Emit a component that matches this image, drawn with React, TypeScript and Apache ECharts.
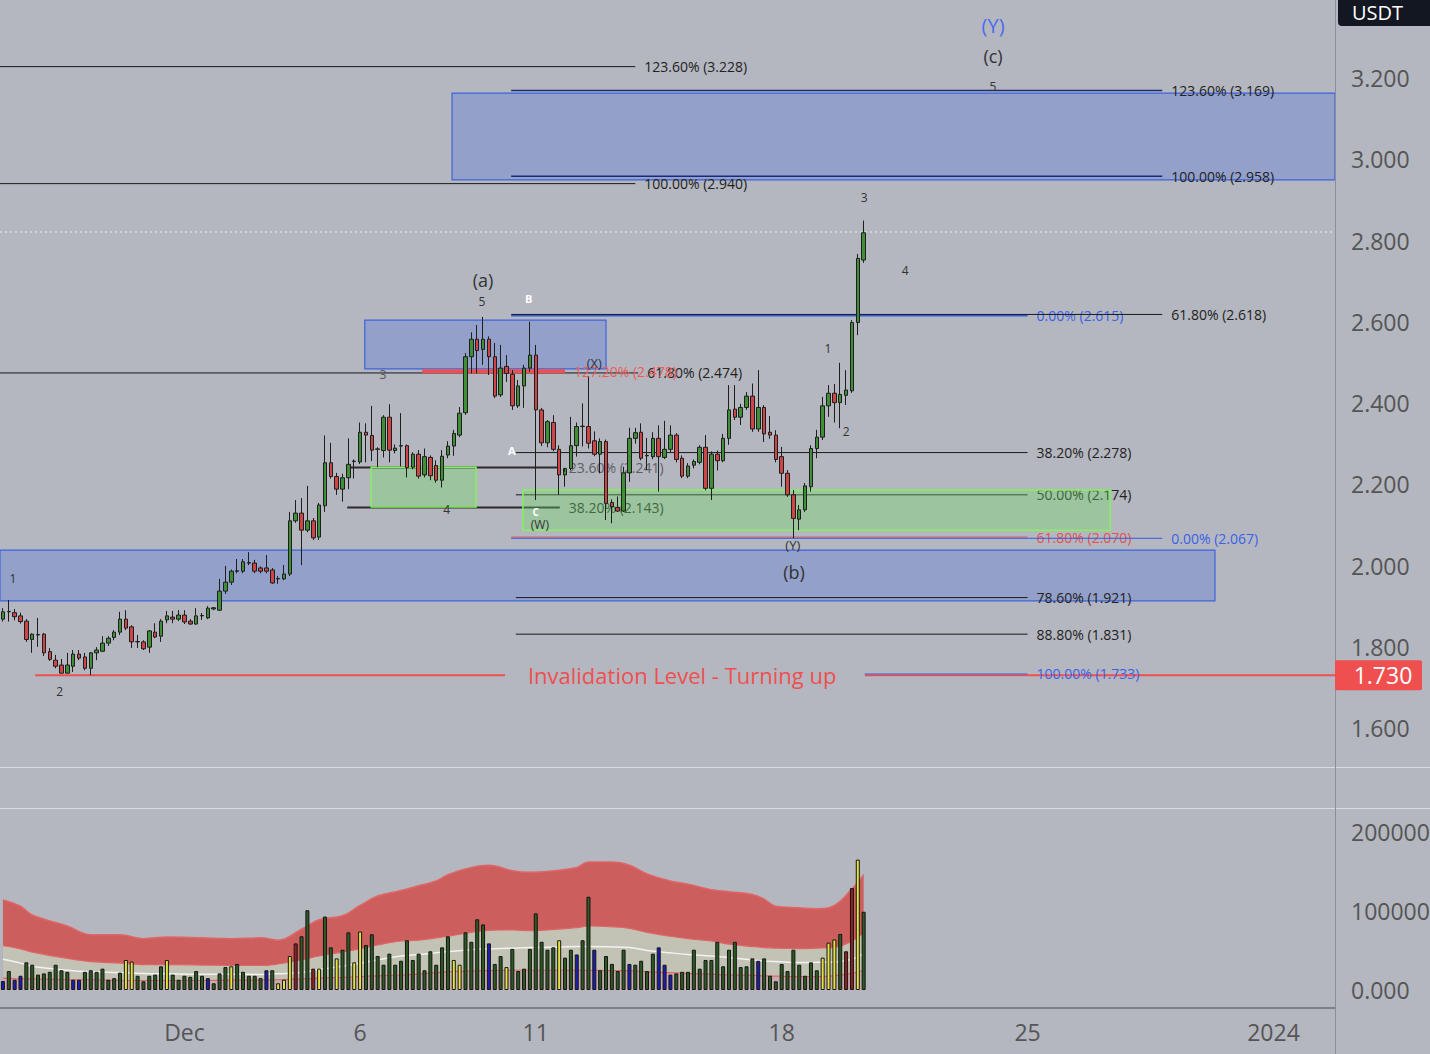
import React, { useEffect, useRef } from "react";
import * as echarts from "echarts";

const FONT = '"Open Sans", "Noto Sans", sans-serif';
const BG = "#b4b7bf";

// ---------- time axis ----------
const SLOTS = 228; // 4h slots visible across the plot
const START_MS = Date.UTC(2023, 10, 25, 20, 0);
const pad2 = (n: number) => String(n).padStart(2, "0");
const CATEGORIES: string[] = Array.from({ length: SLOTS }, (_, i) => {
  const d = new Date(START_MS + i * 4 * 3600 * 1000);
  return `${d.getUTCFullYear()}-${pad2(d.getUTCMonth() + 1)}-${pad2(d.getUTCDate())} ${pad2(d.getUTCHours())}:00`;
});
const TIME_TICK_DATES = ["2023-12-01 00:00", "2023-12-06 00:00", "2023-12-11 00:00", "2023-12-18 00:00", "2023-12-25 00:00", "2024-01-01 00:00"];
const TIME_TICK_LABELS = ["Dec", "6", "11", "18", "25", "2024"];

// ---------- price candles [open, high, low, close] ----------
const CANDLES: number[][] = [
  [1.868, 1.895, 1.862, 1.886], [1.886, 1.915, 1.862, 1.887], [1.884, 1.893, 1.865, 1.874], [1.876, 1.884, 1.857, 1.862],
  [1.863, 1.868, 1.812, 1.818], [1.818, 1.833, 1.785, 1.831], [1.829, 1.871, 1.800, 1.830], [1.831, 1.834, 1.777, 1.785],
  [1.788, 1.797, 1.765, 1.769], [1.767, 1.780, 1.747, 1.752], [1.755, 1.770, 1.735, 1.735], [1.735, 1.785, 1.735, 1.755],
  [1.752, 1.792, 1.738, 1.782], [1.782, 1.792, 1.767, 1.772], [1.775, 1.785, 1.742, 1.747], [1.747, 1.787, 1.730, 1.785],
  [1.785, 1.799, 1.767, 1.792], [1.789, 1.826, 1.787, 1.809], [1.809, 1.826, 1.802, 1.821], [1.823, 1.841, 1.816, 1.836],
  [1.836, 1.886, 1.829, 1.868], [1.868, 1.890, 1.841, 1.846], [1.849, 1.853, 1.797, 1.812], [1.812, 1.829, 1.797, 1.813],
  [1.812, 1.816, 1.792, 1.795], [1.799, 1.841, 1.785, 1.839], [1.836, 1.858, 1.821, 1.824], [1.826, 1.868, 1.812, 1.863],
  [1.866, 1.888, 1.858, 1.876], [1.873, 1.888, 1.858, 1.868], [1.868, 1.890, 1.863, 1.878], [1.878, 1.890, 1.856, 1.861],
  [1.863, 1.868, 1.854, 1.856], [1.856, 1.895, 1.854, 1.876], [1.876, 1.883, 1.866, 1.877], [1.871, 1.900, 1.868, 1.895],
  [1.893, 1.898, 1.890, 1.896], [1.890, 1.967, 1.888, 1.937], [1.937, 1.999, 1.930, 1.959], [1.959, 1.990, 1.952, 1.986],
  [1.986, 2.016, 1.981, 1.987], [1.986, 2.016, 1.981, 2.009], [2.006, 2.033, 2.001, 2.007], [2.006, 2.014, 1.981, 1.986],
  [1.994, 1.998, 1.981, 1.986], [1.994, 2.026, 1.981, 1.986], [1.989, 1.994, 1.955, 1.957], [1.967, 1.974, 1.955, 1.968],
  [1.967, 2.001, 1.964, 1.979], [1.979, 2.132, 1.974, 2.110], [2.110, 2.161, 2.105, 2.129], [2.129, 2.166, 2.001, 2.087],
  [2.087, 2.196, 2.082, 2.110], [2.110, 2.117, 2.063, 2.068], [2.070, 2.154, 2.063, 2.149], [2.147, 2.320, 2.132, 2.253],
  [2.253, 2.302, 2.214, 2.219], [2.219, 2.228, 2.174, 2.188], [2.188, 2.226, 2.157, 2.216], [2.216, 2.313, 2.188, 2.249],
  [2.256, 2.261, 2.214, 2.257], [2.255, 2.352, 2.250, 2.328], [2.328, 2.350, 2.254, 2.321], [2.320, 2.393, 2.257, 2.284],
  [2.286, 2.291, 2.242, 2.287], [2.283, 2.370, 2.266, 2.365], [2.365, 2.397, 2.254, 2.284], [2.283, 2.298, 2.276, 2.289],
  [2.294, 2.375, 2.244, 2.295], [2.295, 2.298, 2.217, 2.241], [2.242, 2.279, 2.237, 2.274], [2.274, 2.284, 2.214, 2.220],
  [2.223, 2.288, 2.217, 2.268], [2.266, 2.271, 2.210, 2.221], [2.246, 2.259, 2.204, 2.210], [2.210, 2.284, 2.192, 2.269],
  [2.272, 2.306, 2.264, 2.294], [2.294, 2.334, 2.270, 2.325], [2.321, 2.390, 2.316, 2.375], [2.376, 2.523, 2.371, 2.514],
  [2.514, 2.574, 2.473, 2.557], [2.557, 2.592, 2.473, 2.529], [2.532, 2.612, 2.494, 2.557], [2.557, 2.564, 2.469, 2.514],
  [2.514, 2.548, 2.412, 2.417], [2.420, 2.543, 2.415, 2.486], [2.490, 2.518, 2.452, 2.473], [2.471, 2.481, 2.383, 2.393],
  [2.393, 2.457, 2.388, 2.442], [2.442, 2.494, 2.388, 2.486], [2.486, 2.600, 2.477, 2.518], [2.518, 2.543, 2.161, 2.383],
  [2.383, 2.388, 2.294, 2.302], [2.302, 2.358, 2.291, 2.354], [2.352, 2.370, 2.281, 2.286], [2.286, 2.296, 2.174, 2.223],
  [2.223, 2.231, 2.194, 2.239], [2.239, 2.366, 2.234, 2.295], [2.295, 2.352, 2.268, 2.342], [2.342, 2.399, 2.293, 2.343],
  [2.342, 2.465, 2.288, 2.301], [2.307, 2.330, 2.269, 2.274], [2.274, 2.313, 2.227, 2.305], [2.305, 2.310, 2.112, 2.153],
  [2.155, 2.163, 2.104, 2.145], [2.143, 2.170, 2.132, 2.134], [2.134, 2.243, 2.132, 2.228], [2.228, 2.339, 2.206, 2.313],
  [2.313, 2.339, 2.300, 2.327], [2.328, 2.350, 2.259, 2.264], [2.270, 2.314, 2.235, 2.271], [2.268, 2.328, 2.262, 2.313],
  [2.313, 2.345, 2.182, 2.268], [2.266, 2.356, 2.262, 2.286], [2.286, 2.345, 2.279, 2.321], [2.321, 2.326, 2.254, 2.261],
  [2.264, 2.271, 2.215, 2.220], [2.220, 2.252, 2.215, 2.245], [2.247, 2.261, 2.239, 2.256], [2.254, 2.296, 2.249, 2.291],
  [2.291, 2.321, 2.185, 2.190], [2.190, 2.281, 2.161, 2.274], [2.274, 2.283, 2.234, 2.258], [2.258, 2.324, 2.254, 2.313],
  [2.313, 2.444, 2.297, 2.383], [2.385, 2.444, 2.358, 2.365], [2.365, 2.398, 2.346, 2.389], [2.389, 2.427, 2.383, 2.417],
  [2.417, 2.448, 2.329, 2.336], [2.336, 2.481, 2.329, 2.389], [2.389, 2.395, 2.304, 2.324], [2.328, 2.368, 2.312, 2.321],
  [2.321, 2.333, 2.254, 2.261], [2.268, 2.292, 2.194, 2.227], [2.227, 2.235, 2.169, 2.174], [2.174, 2.186, 2.067, 2.116],
  [2.114, 2.149, 2.087, 2.137], [2.137, 2.203, 2.132, 2.196], [2.194, 2.296, 2.182, 2.288], [2.288, 2.334, 2.264, 2.316],
  [2.316, 2.415, 2.309, 2.393], [2.393, 2.444, 2.366, 2.424], [2.424, 2.447, 2.352, 2.401], [2.401, 2.499, 2.338, 2.421],
  [2.419, 2.481, 2.395, 2.432], [2.430, 2.604, 2.425, 2.598], [2.598, 2.767, 2.567, 2.756], [2.752, 2.849, 2.745, 2.819],
];

// ---------- volume ----------
const VOLUME: number[] = [
  11400, 24000, 13000, 18000, 35000, 32000, 19500, 21000, 23000, 32000, 25000, 23000, 13000, 13000, 23000, 25000,
  23000, 27000, 13000, 15000, 22000, 38000, 36000, 18000, 11000, 18000, 19500, 30000, 38000, 19500, 13000, 18000,
  16700, 24000, 18000, 15000, 8500, 21000, 29000, 30000, 33000, 23000, 18000, 18000, 15000, 25000, 25000, 8500,
  13000, 43000, 59000, 68000, 101000, 27000, 27000, 93000, 54000, 40000, 51000, 73000, 35000, 74000, 57000, 70500,
  43000, 32000, 46000, 32000, 37000, 63000, 38000, 46000, 25000, 49000, 32000, 54000, 68000, 38000, 32000, 73000,
  61000, 89500, 83000, 59000, 33000, 43000, 29000, 52000, 24000, 27000, 52000, 97000, 61000, 51000, 54000, 63000,
  41000, 51000, 45000, 63000, 118000, 51000, 25000, 43000, 33000, 24000, 51000, 33000, 32000, 37000, 24000, 46000,
  54000, 32000, 19500, 21000, 23000, 23000, 51000, 27000, 38000, 38000, 61000, 30000, 51000, 61000, 29000, 30000,
  40000, 37000, 40000, 18000, 11000, 33000, 24000, 51000, 32000, 18000, 35000, 25000, 41000, 60000, 64000, 71000,
  49000, 129000, 165000, 99000,
];
// g = normal, y = high, r = very high, b = low
const VOLUME_KIND: string =
  "bgbbggggggggbbgggggggyygggggygggggg" + "bgggygggggbgyyyrggryggyggyygggggggggggggggyyggggbggyggggggggyggbggbgggggbggggbbbggggggggggggggbggggggggggyyygrry";

// volume bands sampled at slot indexes
const BAND_X = [0, 3, 5, 11, 15, 20, 24, 28, 34, 39, 44, 47, 51, 54, 58, 61, 64, 68, 71, 74, 76, 80, 83, 87, 90, 93, 98, 100, 104, 107, 110, 114, 117, 121, 124, 128, 130, 132, 136, 139, 142, 145, 147];
const BAND_UPPER = [114, 106, 95, 81, 70, 70, 65, 67, 66, 65, 66, 63, 77, 89, 94, 107, 119, 126, 132, 138, 146, 155, 158, 151, 149, 150, 155, 162, 162, 158, 147, 138, 134, 127, 124.5, 121, 115, 106, 104, 103, 107, 128, 146];
const BAND_MID = [56, 52, 48, 40, 36, 34, 32, 32, 31.6, 31, 31, 33, 38, 43, 48, 52, 57, 62, 63, 66, 68, 73, 75.5, 76, 75, 76, 79, 81, 80, 78, 73, 68, 65, 62, 58, 55, 53.7, 53, 52.4, 53, 54, 62, 72.6];
const BAND_MEAN = [39, 34, 30, 25, 23, 22, 21, 20.5, 20, 20, 19.7, 20.5, 22, 26, 30, 34, 38, 43, 45, 47, 48.6, 51, 52, 53, 53.7, 54, 55, 55, 54.5, 53.7, 50, 47, 45, 43, 41, 38, 36.7, 36, 34.7, 35, 35.5, 39, 46.5];
const BAND_LOWER = [15, 14, 14, 13, 13, 12, 12, 12, 12, 12.5, 12.6, 13, 14, 15, 16, 17, 18, 19, 20, 22, 23, 24, 24.5, 25, 25, 25, 25, 25, 24.5, 24.5, 23, 22, 21, 20, 19, 18.5, 18, 17.5, 17, 17, 18, 21, 25];

// ---------- drawings ----------
const LAST_PRICE = 2.821;
const INVALIDATION = 1.73;
type Rect = { x1: number; x2: number; top: number; bottom: number; kind: "blue" | "green" };
const RECTS: Rect[] = [
  { x1: 61.8, x2: 103, top: 2.604, bottom: 2.484, kind: "blue" },
  { x1: 76.7, x2: 227.5, top: 3.163, bottom: 2.949, kind: "blue" },
  { x1: -0.5, x2: 207, top: 2.038, bottom: 1.913, kind: "blue" },
  { x1: 62.9, x2: 80.8, top: 2.242, bottom: 2.144, kind: "green" },
  { x1: 88.8, x2: 189.1, top: 2.186, bottom: 2.087, kind: "green" },
];
type Level = { x1: number; x2: number; price: number; label: string; line: string; text: string; w: number };
const LEVELS: Level[] = [
  { x1: -0.5, x2: 108, price: 3.228, label: "123.60% (3.228)", line: "#1a1a1a", text: "#222", w: 1 },
  { x1: -0.5, x2: 108, price: 2.94, label: "100.00% (2.940)", line: "#1a1a1a", text: "#222", w: 1 },
  { x1: -0.5, x2: 108.5, price: 2.474, label: "61.80% (2.474)", line: "#1a1a1a", text: "#222", w: 1 },
  { x1: 86.8, x2: 198, price: 3.169, label: "123.60% (3.169)", line: "#1b2a78", text: "#222", w: 1.5 },
  { x1: 86.8, x2: 198, price: 2.958, label: "100.00% (2.958)", line: "#1b2a78", text: "#222", w: 1.5 },
  { x1: 86.8, x2: 175, price: 2.615, label: "0.00% (2.615)", line: "#2f5be6", text: "#3a62e8", w: 1.5 },
  { x1: 86.8, x2: 198, price: 2.618, label: "61.80% (2.618)", line: "#1a1a1a", text: "#222", w: 1 },
  { x1: 87.6, x2: 175, price: 2.278, label: "38.20% (2.278)", line: "#1a1a1a", text: "#222", w: 1 },
  { x1: 87.6, x2: 175, price: 2.174, label: "50.00% (2.174)", line: "#1a1a1a", text: "#222", w: 1 },
  { x1: 86.8, x2: 175, price: 2.07, label: "61.80% (2.070)", line: "#e55050", text: "#e55050", w: 1 },
  { x1: 86.8, x2: 198, price: 2.067, label: "0.00% (2.067)", line: "#2f5be6", text: "#3a62e8", w: 1 },
  { x1: 87.6, x2: 175, price: 1.921, label: "78.60% (1.921)", line: "#1a1a1a", text: "#222", w: 1 },
  { x1: 87.6, x2: 175, price: 1.831, label: "88.80% (1.831)", line: "#1a1a1a", text: "#222", w: 1 },
  { x1: 58.8, x2: 95.1, price: 2.241, label: "23.60% (2.241)", line: "#2a2a2a", text: "#5e6066", w: 2 },
  { x1: 58.8, x2: 95.1, price: 2.143, label: "38.20% (2.143)", line: "#2a2a2a", text: "#2a2a2a", w: 2 },
  { x1: 71.6, x2: 96, price: 2.478, label: "127.20% (2.478)", line: "#ef4f4f", text: "#ef5a5a", w: 4 },
];
type Wave = { x: number; price: number; text: string; color: string; size: number };
const WAVES: Wave[] = [
  { x: 169.1, price: 3.33, text: "(Y)", color: "#4a6cf0", size: 20 },
  { x: 169.1, price: 3.254, text: "(c)", color: "#333", size: 18 },
  { x: 169.1, price: 3.178, text: "5", color: "#333", size: 12 },
  { x: 147.1, price: 2.905, text: "3", color: "#333", size: 12 },
  { x: 154.1, price: 2.727, text: "4", color: "#333", size: 12 },
  { x: 140.9, price: 2.533, text: "1", color: "#333", size: 12 },
  { x: 144.0, price: 2.329, text: "2", color: "#333", size: 12 },
  { x: 82.0, price: 2.703, text: "(a)", color: "#333", size: 18 },
  { x: 81.8, price: 2.649, text: "5", color: "#333", size: 12 },
  { x: 89.8, price: 2.658, text: "B", color: "#ffffff", size: 11 },
  { x: 64.9, price: 2.469, text: "3", color: "#555", size: 12 },
  { x: 101.0, price: 2.498, text: "(X)", color: "#333", size: 13 },
  { x: 86.9, price: 2.282, text: "A", color: "#ffffff", size: 11 },
  { x: 75.8, price: 2.137, text: "4", color: "#333", size: 12 },
  { x: 91.0, price: 2.131, text: "C", color: "#ffffff", size: 10 },
  { x: 91.7, price: 2.1, text: "(W)", color: "#333", size: 12 },
  { x: 134.9, price: 2.05, text: "(Y)", color: "#333", size: 13 },
  { x: 135.1, price: 1.984, text: "(b)", color: "#333", size: 18 },
  { x: 1.7, price: 1.969, text: "1", color: "#333", size: 12 },
  { x: 9.7, price: 1.689, text: "2", color: "#333", size: 12 },
];
const INVALIDATION_TEXT = "Invalidation Level - Turning up";
const INV_SEGMENTS = [[5.5, 85.75], [147.2, 227.5]];
const INV_TEXT_X = 116;
const INV_BLUE = { x1: 147.2, x2: 175, price: 1.733, label: "100.00% (1.733)" };

const KIND_COLOR: Record<string, string> = { g: "#2c5a22", y: "#e6e43c", r: "#8e2222", b: "#1d1db5" };

export default function App() {
  const ref = useRef<HTMLDivElement>(null);

  useEffect(() => {
    const el = ref.current!;
    const chart = echarts.init(el, null, { renderer: "svg", width: 1430, height: 1054 });

    const axisText = { fontFamily: FONT, fontSize: 23, color: "#555" };

    const rectSeries = {
      type: "custom",
      xAxisIndex: 1,
      yAxisIndex: 0,
      z: 1,
      silent: true,
      data: RECTS.filter((r) => r.kind === "blue").map((r) => [r.x1, r.top, r.x2, r.bottom]),
      encode: { x: [0, 2], y: [1, 3] },
      renderItem: (params: any, api: any) => {
        const a = api.coord([api.value(0), api.value(1)]);
        const b = api.coord([api.value(2), api.value(3)]);
        return {
          type: "rect",
          shape: { x: a[0], y: a[1], width: b[0] - a[0], height: b[1] - a[1] },
          style: { fill: "rgba(70,110,230,0.30)", stroke: "#3d63dd", lineWidth: 1.2 },
        };
      },
    };

    const greenSeries = {
      type: "custom",
      xAxisIndex: 1,
      yAxisIndex: 0,
      z: 3,
      silent: true,
      data: RECTS.filter((r) => r.kind === "green").map((r) => [r.x1, r.top, r.x2, r.bottom]),
      encode: { x: [0, 2], y: [1, 3] },
      renderItem: (params: any, api: any) => {
        const a = api.coord([api.value(0), api.value(1)]);
        const b = api.coord([api.value(2), api.value(3)]);
        return {
          type: "rect",
          shape: { x: a[0], y: a[1], width: b[0] - a[0], height: b[1] - a[1] },
          style: { fill: "rgba(110,220,100,0.35)", stroke: "#86f060", lineWidth: 1.5 },
        };
      },
    };

    const levelSeries = {
      type: "custom",
      xAxisIndex: 1,
      yAxisIndex: 0,
      z: 2,
      silent: true,
      data: LEVELS.map((l) => [l.x1, l.price, l.x2]),
      encode: { x: [0, 2], y: 1 },
      renderItem: (params: any, api: any) => {
        const l = LEVELS[params.dataIndex];
        const a = api.coord([api.value(0), api.value(1)]);
        const b = api.coord([api.value(2), api.value(1)]);
        return {
          type: "group",
          children: [
            { type: "line", shape: { x1: a[0], y1: a[1], x2: b[0], y2: b[1] }, style: { stroke: l.line, lineWidth: l.w } },
            {
              type: "text",
              x: b[0] + 9,
              y: b[1],
              style: { text: l.label, fill: l.text, fontSize: 14, fontFamily: FONT, align: "left", verticalAlign: "middle" },
            },
          ],
        };
      },
    };

    const invSeries = {
      type: "custom",
      xAxisIndex: 1,
      yAxisIndex: 0,
      z: 2,
      silent: true,
      data: [[INV_SEGMENTS[0][0], INVALIDATION, INV_SEGMENTS[1][1]]],
      encode: { x: [0, 2], y: 1 },
      renderItem: (params: any, api: any) => {
        const kids: any[] = [];
        INV_SEGMENTS.forEach((s) => {
          const a = api.coord([s[0], INVALIDATION]);
          const b = api.coord([s[1], INVALIDATION]);
          kids.push({ type: "line", shape: { x1: a[0], y1: a[1], x2: b[0], y2: b[1] }, style: { stroke: "#ef4f4f", lineWidth: 2 } });
        });
        const t = api.coord([INV_TEXT_X, INVALIDATION]);
        kids.push({
          type: "text",
          x: t[0],
          y: t[1],
          style: { text: INVALIDATION_TEXT, fill: "#ef4f4f", fontSize: 22, fontFamily: FONT, align: "center", verticalAlign: "middle" },
        });
        const c = api.coord([INV_BLUE.x1, INV_BLUE.price]);
        const d = api.coord([INV_BLUE.x2, INV_BLUE.price]);
        kids.push({ type: "line", shape: { x1: c[0], y1: c[1], x2: d[0], y2: d[1] }, style: { stroke: "#3a62e8", lineWidth: 1 } });
        kids.push({
          type: "text",
          x: d[0] + 9,
          y: d[1],
          style: { text: INV_BLUE.label, fill: "#3a62e8", fontSize: 14, fontFamily: FONT, align: "left", verticalAlign: "middle" },
        });
        const e = api.coord([-0.5, LAST_PRICE]);
        const f = api.coord([227.5, LAST_PRICE]);
        kids.push({ type: "line", shape: { x1: e[0], y1: e[1], x2: f[0], y2: f[1] }, style: { stroke: "#eef0f4", lineWidth: 1, lineDash: [2, 3] } });
        return { type: "group", children: kids };
      },
    };

    const waveSeries = {
      type: "custom",
      xAxisIndex: 1,
      yAxisIndex: 0,
      z: 6,
      silent: true,
      data: WAVES.map((w) => [w.x, w.price]),
      encode: { x: 0, y: 1 },
      renderItem: (params: any, api: any) => {
        const w = WAVES[params.dataIndex];
        const p = api.coord([api.value(0), api.value(1)]);
        return {
          type: "text",
          x: p[0],
          y: p[1],
          style: {
            text: w.text,
            fill: w.color,
            fontSize: w.size,
            fontFamily: FONT,
            fontWeight: w.color === "#ffffff" ? "bold" : "normal",
            align: "center",
            verticalAlign: "middle",
          },
        };
      },
    };

    const band = (vals: number[]) => BAND_X.map((x, i) => [x, vals[i] * 1000]);

    const option: any = {
      animation: false,
      backgroundColor: BG,
      textStyle: { fontFamily: FONT },
      grid: [
        { left: 0, top: 78, width: 1335, height: 650, outerBoundsMode: "none", containLabel: false },
        { left: 0, top: 832, width: 1335, height: 158, outerBoundsMode: "none", containLabel: false },
      ],
      xAxis: [
        { type: "category", gridIndex: 0, data: CATEGORIES, boundaryGap: true, show: false },
        { type: "value", gridIndex: 0, min: -0.5, max: SLOTS - 0.5, show: false },
        {
          type: "category",
          gridIndex: 1,
          data: CATEGORIES,
          boundaryGap: true,
          axisLine: { show: false },
          axisTick: { show: false },
          splitLine: { show: false },
          axisLabel: {
            ...axisText,
            lineHeight: 24,
            margin: 30,
            interval: (index: number, value: string) => TIME_TICK_DATES.indexOf(value) >= 0,
            formatter: (value: string) => {
              const k = TIME_TICK_DATES.indexOf(value);
              return k >= 0 ? TIME_TICK_LABELS[k] : "";
            },
          },
        },
        { type: "value", gridIndex: 1, min: -0.5, max: SLOTS - 0.5, show: false },
      ],
      yAxis: [
        {
          type: "value",
          gridIndex: 0,
          position: "right",
          min: 1.6,
          max: 3.2,
          interval: 0.2,
          axisLine: { show: false },
          axisTick: { show: false },
          splitLine: { show: false },
          axisLabel: { ...axisText, margin: 16, formatter: (v: number) => v.toFixed(3) },
        },
        {
          type: "value",
          gridIndex: 1,
          position: "right",
          min: 0,
          max: 200000,
          interval: 100000,
          axisLine: { show: false },
          axisTick: { show: false },
          splitLine: { show: false },
          axisLabel: { ...axisText, margin: 16, formatter: (v: number) => v.toFixed(3) },
        },
      ],
      series: [
        rectSeries,
        levelSeries,
        invSeries,
        greenSeries,
        {
          type: "candlestick",
          xAxisIndex: 0,
          yAxisIndex: 0,
          z: 5,
          barWidth: 4,
          silent: true,
          data: CANDLES.map((c) => [c[0], c[3], c[2], c[1]]),
          itemStyle: {
            color: "#3f8f36",
            color0: "#cf4545",
            borderColor: "#1e1e1e",
            borderColor0: "#1e1e1e",
            borderWidth: 1,
          },
        },
        waveSeries,
        {
          type: "line",
          xAxisIndex: 3,
          yAxisIndex: 1,
          z: 1,
          silent: true,
          smooth: 0.4,
          symbol: "none",
          data: band(BAND_UPPER),
          lineStyle: { color: "#e06666", width: 1.5 },
          areaStyle: { color: "#cd5e5e", opacity: 1, origin: "start" },
        },
        {
          type: "line",
          xAxisIndex: 3,
          yAxisIndex: 1,
          z: 1,
          silent: true,
          smooth: 0.4,
          symbol: "none",
          data: band(BAND_MID),
          lineStyle: { color: "#e06666", width: 1.2 },
          areaStyle: { color: "#c2c3b4", opacity: 1, origin: "start" },
        },
        {
          type: "line",
          xAxisIndex: 3,
          yAxisIndex: 1,
          z: 1,
          silent: true,
          smooth: 0.4,
          symbol: "none",
          data: band(BAND_LOWER),
          lineStyle: { color: "#e06666", width: 1.2 },
          areaStyle: { color: "#c6acae", opacity: 1, origin: "start" },
        },
        {
          type: "line",
          xAxisIndex: 3,
          yAxisIndex: 1,
          z: 1,
          silent: true,
          smooth: 0.4,
          symbol: "none",
          data: band(BAND_MEAN),
          lineStyle: { color: "#f2f2f2", width: 1.5 },
        },
        {
          type: "bar",
          xAxisIndex: 2,
          yAxisIndex: 1,
          z: 3,
          silent: true,
          barWidth: 4,
          data: VOLUME.map((v, i) => ({
            value: v,
            itemStyle: { color: KIND_COLOR[VOLUME_KIND[i]] || KIND_COLOR.g, borderColor: "#151515", borderWidth: 1 },
          })),
        },
      ],
    };

    chart.setOption(option);

    const yInv = chart.convertToPixel({ yAxisIndex: 0 }, INVALIDATION) as number;
    chart.setOption({
      graphic: [
        { type: "line", z: 10, shape: { x1: 0, y1: 767.5, x2: 1430, y2: 767.5 }, style: { stroke: "#d9dbe0", lineWidth: 1 } },
        { type: "line", z: 10, shape: { x1: 0, y1: 808.5, x2: 1430, y2: 808.5 }, style: { stroke: "#d9dbe0", lineWidth: 1 } },
        { type: "line", z: 10, shape: { x1: 0, y1: 1008, x2: 1335, y2: 1008 }, style: { stroke: "#7d8088", lineWidth: 2 } },
        { type: "line", z: 10, shape: { x1: 1335.5, y1: 0, x2: 1335.5, y2: 1054 }, style: { stroke: "#8b8e96", lineWidth: 1 } },
        { type: "rect", z: 11, shape: { x: 1338, y: -6, width: 100, height: 32, r: 4 }, style: { fill: "#131722" } },
        {
          type: "text",
          z: 12,
          x: 1352,
          y: 12,
          style: { text: "USDT", fill: "#ffffff", fontSize: 20, fontFamily: FONT, align: "left", verticalAlign: "middle" },
        },
        { type: "rect", z: 11, shape: { x: 1335, y: yInv - 15, width: 87, height: 30, r: 2 }, style: { fill: "#ef4f4f" } },
        {
          type: "text",
          z: 12,
          x: 1383,
          y: yInv,
          style: { text: INVALIDATION.toFixed(3), fill: "#ffffff", fontSize: 23, fontFamily: FONT, align: "center", verticalAlign: "middle" },
        },
      ],
    });

    return () => chart.dispose();
  }, []);

  return <div ref={ref} style={{ position: "fixed", left: 0, top: 0, width: 1430, height: 1054 }} />;
}
